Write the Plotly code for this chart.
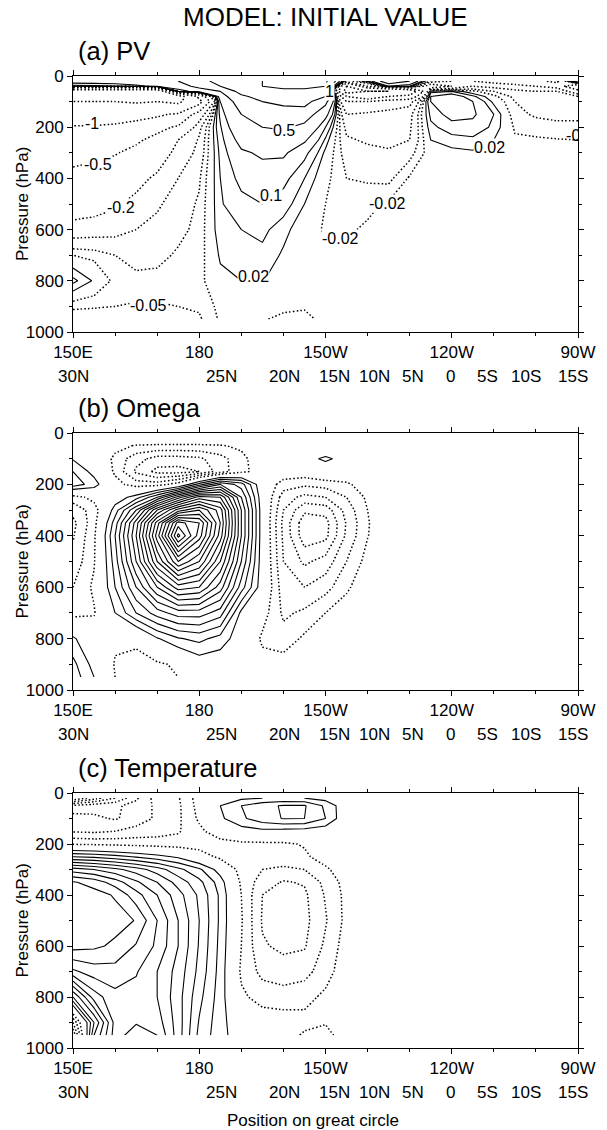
import plotly.graph_objects as go

# ---------------------------------------------------------------- grids
LON = list(range(150, 275, 5))          # 150E ... 90W (degrees east)

# (a) potential vorticity anomaly, rows = pressure levels, cols = LON
P_PV = [20, 40, 60, 80, 100, 150, 200, 250, 300, 400, 500, 600, 700, 800, 900, 950]
PV_COLS = {
    150: [0.3, 0.05, -3.0, -2.5, -2.0, -1.4, -0.95, -0.75, -0.6, -0.42, -0.3, -0.14, -0.02, 0.06, -0.04, -0.08],
    155: [0.3, 0.07, -3.0, -2.5, -2.0, -1.35, -0.95, -0.7, -0.57, -0.38, -0.27, -0.13, -0.03, 0.015, -0.045, -0.08],
    160: [0.3, 0.1, -3.0, -2.6, -2.0, -1.3, -0.9, -0.65, -0.52, -0.32, -0.22, -0.12, -0.05, -0.03, -0.05, -0.075],
    165: [0.35, 0.15, -3.0, -2.7, -2.1, -1.2, -0.8, -0.55, -0.42, -0.25, -0.16, -0.1, -0.065, -0.04, -0.052, -0.07],
    170: [0.4, 0.25, -3.0, -2.6, -2.0, -1.1, -0.6, -0.4, -0.3, -0.17, -0.11, -0.08, -0.06, -0.04, -0.052, -0.065],
    175: [0.5, 0.35, 0.1, -2.5, -2.2, -0.9, -0.45, -0.2, -0.15, -0.1, -0.07, -0.06, -0.045, -0.04, -0.05, -0.06],
    180: [0.8, 0.6, 0.3, -0.8, -1.2, -0.3, -0.12, -0.09, -0.08, -0.055, -0.045, -0.04, -0.035, -0.03, -0.045, -0.055],
    185: [1.2, 1.0, 0.5, 0.3, 0.2, 0.12, 0.09, 0.07, 0.06, 0.05, 0.045, 0.04, 0.025, 0.01, -0.01, -0.015],
    190: [1.5, 1.5, 1.2, 0.9, 0.7, 0.5, 0.35, 0.25, 0.18, 0.12, 0.08, 0.05, 0.035, 0.02, -0.01, -0.015],
    195: [2.0, 2.0, 1.6, 1.2, 1.0, 0.75, 0.5, 0.3, 0.22, 0.14, 0.1, 0.06, 0.04, 0.022, -0.01, -0.018],
    200: [2.5, 2.2, 1.8, 1.4, 1.1, 0.8, 0.55, 0.32, 0.22, 0.12, 0.07, 0.03, 0.015, 0.0, -0.015, -0.025],
    205: [2.5, 2.2, 1.8, 1.5, 1.2, 0.7, 0.4, 0.22, 0.12, 0.05, 0.02, 0.0, -0.01, -0.012, -0.018, -0.025],
    210: [2.2, 2.0, 1.5, 1.0, 0.6, 0.25, 0.1, 0.04, 0.01, -0.01, -0.02, -0.025, -0.015, -0.012, -0.014, -0.015],
    215: [-0.3, -2.0, -2.5, -1.0, -0.5, -0.2, -0.12, -0.09, -0.07, -0.05, -0.035, -0.025, -0.012, -0.01, -0.012, -0.012],
    220: [0.05, -0.5, -2.0, -1.5, -0.5, -0.15, -0.13, -0.11, -0.08, -0.055, -0.028, -0.015, -0.01, -0.005, -0.008, -0.01],
    225: [0.3, 0.1, -2.0, -1.0, -0.3, -0.15, -0.14, -0.12, -0.09, -0.06, -0.015, -0.01, -0.005, 0.0, -0.005, -0.008],
    230: [0.2, 0.05, -1.5, -0.8, -0.25, -0.12, -0.11, -0.1, -0.065, -0.015, -0.008, -0.005, 0.0, 0.0, 0.0, 0.0],
    235: [-0.05, -0.3, 0.03, 0.1, 0.1, 0.06, 0.04, 0.02, 0.0, -0.005, 0.0, 0.0, 0.0, 0.0, 0.0, 0.0],
    240: [-0.1, -0.2, 0.05, 0.15, 0.18, 0.13, 0.07, 0.035, 0.01, 0.0, 0.0, 0.0, 0.0, 0.0, 0.0, 0.0],
    245: [-0.2, -0.1, -0.01, 0.06, 0.1, 0.11, 0.08, 0.04, 0.015, 0.0, 0.0, 0.0, 0.0, 0.0, 0.0, 0.0],
    250: [-0.25, -0.12, -0.05, -0.01, 0.01, 0.05, 0.04, 0.02, 0.005, 0.0, 0.0, 0.0, 0.0, 0.0, 0.0, 0.0],
    255: [-0.3, -0.15, -0.08, -0.06, -0.05, -0.04, -0.025, -0.015, -0.005, 0.0, 0.0, 0.0, 0.0, 0.0, 0.0, 0.0],
    260: [-0.4, -0.2, -0.1, -0.07, -0.06, -0.055, -0.035, -0.015, -0.005, 0.0, 0.0, 0.0, 0.0, 0.0, 0.0, 0.0],
    265: [-0.6, -0.25, -0.1, -0.08, -0.07, -0.06, -0.04, -0.018, -0.005, 0.0, 0.0, 0.0, 0.0, 0.0, 0.0, 0.0],
    270: [0.5, -1.0, -0.3, -0.1, -0.08, -0.06, -0.04, -0.02, -0.01, 0.0, 0.0, 0.0, 0.0, 0.0, 0.0, 0.0],
}
PV_POS_LEVELS = [0.02, 0.05, 0.1, 0.2, 0.5, 1, 2, 5]
PV_NEG_LEVELS = [-0.02, -0.05, -0.1, -0.2, -0.5, -1, -2, -5]
# contour labels: (lon, pressure, level)
PV_LABELS = [
    (154.5, 187, -1), (156.0, 345, -0.5), (161.5, 515, -0.2), (168.0, 895, -0.05),
    (193.0, 784, 0.02), (197.0, 465, 0.1), (200.2, 211, 0.5), (211.0, 62, 1),
    (224.8, 497, -0.02), (213.6, 633, -0.02), (249.0, 281, 0.02),
]
PV_EDGE_LABEL = (271.5, 240, -0.02)

# (b) omega, rows = pressure levels
P_OM = [20, 50, 100, 150, 200, 250, 300, 350, 400, 500, 600, 700, 800, 900, 950]
OM_COLS = {
    150: [0, 0.5, 0.9, 2.0, 2.6, -1.5, -2.6, -3.3, -3.1, -2.7, -2.0, -1.4, 1.2, 2.3, 2.6],
    155: [0, 0, 0.3, 0.6, 1.5, -0.6, -1.6, -1.4, -1.2, -1.1, -0.8, -1.1, -0.2, 0.6, 1.0],
    160: [0, -0.6, -1.3, -1.2, -0.6, 0.3, 1.5, 2.5, 3.0, 2.5, 2.0, 1.0, -0.8, -1.1, -1.0],
    165: [0, -1.1, -2.6, -3.2, -1.5, 1.5, 5.0, 7.5, 8.0, 7.0, 5.0, 3.0, -0.8, -1.3, -1.4],
    170: [0, -1.2, -3.4, -4.3, -1.5, 4.0, 10.0, 13.5, 14.5, 12.0, 8.0, 4.5, 0.9, -1.2, -1.3],
    175: [0, -1.2, -3.4, -4.4, -0.5, 7.5, 13.5, 19.5, 21.3, 16.0, 10.5, 5.5, 1.9, -0.8, -1.0],
    180: [0, -1.2, -3.2, -4.0, 2.5, 10.5, 15.0, 18.0, 17.5, 14.0, 10.0, 5.5, 2.3, 0.3, -0.3],
    185: [0, -1.1, -2.4, -2.5, 5.0, 10.0, 12.5, 13.0, 12.5, 10.0, 7.5, 4.5, 1.6, 0.2, 0],
    190: [0, -0.8, -1.3, -1.3, 3.5, 5.0, 6.0, 6.0, 6.0, 5.0, 3.5, 0.7, 0.3, 0, 0],
    195: [0, -0.3, -0.3, -0.5, 0.0, 0.2, 0.3, 0.3, 0.3, 0.3, 0.3, -0.5, -1.2, -0.6, -0.3],
    200: [0, 0, 0, -0.2, -1.5, -2.5, -3.0, -3.3, -3.2, -3.0, -2.6, -2.2, -1.6, -0.5, -0.2],
    205: [0, 0, 0.6, -0.3, -1.8, -3.3, -4.8, -5.6, -5.6, -4.2, -3.0, -1.8, -0.8, 0, 0],
    210: [0, 0, 1.2, 0.3, -1.6, -3.0, -4.6, -5.4, -5.3, -3.6, -2.4, -1.0, -0.2, 0, 0],
    215: [0, 0, 0.6, 0, -1.2, -2.0, -2.6, -2.9, -2.8, -2.0, -1.2, -0.4, 0, 0, 0],
    220: [0, 0, 0, 0, -0.4, -0.8, -1.0, -1.1, -1.05, -0.6, -0.2, 0, 0, 0, 0],
}
OM_POS = dict(start=1, end=21, size=1)
OM_NEG = dict(start=-6, end=-1, size=1)

# (c) temperature, rows = pressure levels
P_T = [20, 50, 100, 150, 200, 250, 300, 350, 400, 500, 600, 700, 800, 900, 950]
T_COLS = {
    150: [-9.0, -4.8, -3.5, -3.1, -1.1, 3.0, 7.5, 10.1, 10.6, 10.8, 10.4, 7.8, 3.0, -3.0, -5.0],
    155: [-7.5, -4.4, -3.8, -3.2, -1.2, 2.8, 7.0, 9.6, 10.4, 10.7, 10.2, 8.5, 6.5, 3.0, 4.0],
    160: [-6.0, -4.2, -4.1, -3.0, -1.3, 2.4, 6.3, 8.5, 9.9, 10.4, 9.8, 8.6, 7.7, 7.4, 7.5],
    165: [-4.2, -3.6, -3.6, -2.6, -1.4, 1.9, 5.5, 7.2, 8.4, 9.95, 8.9, 8.1, 7.6, 7.9, 8.6],
    170: [-2.5, -2.8, -2.8, -2.4, -1.5, 1.4, 4.5, 6.0, 7.0, 8.0, 7.8, 7.0, 7.0, 7.5, 8.0],
    175: [-2.1, -2.2, -2.2, -2.1, -1.6, 0.8, 3.3, 4.6, 5.4, 6.0, 6.0, 5.6, 5.4, 5.5, 5.5],
    180: [-0.5, -0.6, -0.8, -1.3, -1.6, -0.3, 2.2, 3.3, 3.8, 4.0, 3.9, 3.7, 3.3, 2.9, 2.7],
    185: [0.3, 1.0, 0.8, -0.2, -1.5, -1.3, 0.5, 1.5, 1.8, 1.8, 1.7, 1.6, 1.5, 1.4, 1.4],
    190: [0.8, 2.0, 1.8, 0.5, -1.3, -1.6, -1.5, -1.2, -1.0, -0.9, -1.0, -1.2, -0.8, 0.1, 0.3],
    195: [1.0, 2.7, 2.6, 0.7, -1.25, -1.5, -2.0, -2.5, -3.0, -3.1, -2.9, -2.3, -1.4, -0.4, -0.3],
    200: [1.1, 3.1, 3.05, 0.6, -1.2, -1.4, -2.2, -3.1, -3.4, -3.5, -3.2, -2.6, -1.5, -0.5, -0.5],
    205: [1.0, 3.1, 3.0, 0.5, -0.9, -1.2, -2.0, -2.9, -3.2, -3.3, -3.1, -2.4, -1.3, -0.7, -1.15],
    210: [0.6, 1.8, 2.0, 0.3, -0.5, -0.5, -1.2, -1.7, -1.9, -2.1, -1.8, -1.4, -0.8, -0.95, -1.25],
    215: [0, 0.2, 0.1, 0, 0, 0, -0.3, -0.6, -0.7, -0.7, -0.5, -0.4, -0.2, -0.4, -0.6],
}
T_POS = dict(start=1, end=11, size=1)
T_NEG = dict(start=-10, end=-1, size=1)

# axis labelling
LON_TICKS = [150, 180, 210, 240, 270]
LON_TEXT = ["150E", "180", "150W", "120W", "90W"]
LAT_POS = [150.0, 185.3, 200.3, 212.2, 221.7, 230.7, 239.8, 248.6, 257.6, 268.8]
LAT_TEXT = ["30N", "25N", "20N", "15N", "10N", "5N", "0", "5S", "10S", "15S"]
P_TICKS = [0, 200, 400, 600, 800, 1000]

TITLE = "MODEL: INITIAL VALUE"
PANEL_TITLES = ["(a) PV", "(b) Omega", "(c) Temperature"]
Y_TITLE = "Pressure (hPa)"
X_TITLE = "Position on great circle"


def to_grid(cols, nrows):
    """Column dictionary -> row-major grid over LON (missing columns are zero)."""
    return [[cols.get(lon, [0.0] * nrows)[r] for lon in LON] for r in range(nrows)]


Z_PV = to_grid(PV_COLS, len(P_PV))
Z_OM = to_grid(OM_COLS, len(P_OM))
Z_T = to_grid(T_COLS, len(P_T))

FONT = "Liberation Sans, Arial, Helvetica, sans-serif"
BLACK = [[0, "black"], [1, "black"]]
SOLID = dict(width=1.1, dash="solid", smoothing=0)
DOTTED = dict(width=1.5, dash="1.5px,2.2px", smoothing=0)

fig = go.Figure()


def contour(z, y, spec, line, xa, ya):
    fig.add_trace(go.Contour(
        x=LON, y=y, z=z, autocontour=False,
        contours=dict(coloring="lines", showlabels=False, **spec),
        colorscale=BLACK, showscale=False, line=line,
        hoverinfo="skip", xaxis=xa, yaxis=ya))


# (a) PV: irregular levels, one trace per level
for lv in PV_POS_LEVELS:
    contour(Z_PV, P_PV, dict(start=lv, end=lv, size=1), SOLID, "x", "y")
for lv in PV_NEG_LEVELS:
    contour(Z_PV, P_PV, dict(start=lv, end=lv, size=1), DOTTED, "x", "y")

# (b) omega
contour(Z_OM, P_OM, OM_POS, SOLID, "x2", "y2")
contour(Z_OM, P_OM, OM_NEG, DOTTED, "x2", "y2")

# (c) temperature
contour(Z_T, P_T, T_POS, SOLID, "x3", "y3")
contour(Z_T, P_T, T_NEG, DOTTED, "x3", "y3")


def fmt(v):
    return f"{v:g}"


# label cut by the right-hand frame
fig.add_trace(go.Scatter(
    x=[PV_EDGE_LABEL[0]], y=[PV_EDGE_LABEL[1]], mode="text",
    text=[fmt(PV_EDGE_LABEL[2])], textfont=dict(family=FONT, size=16, color="black"),
    cliponaxis=True, hoverinfo="skip", showlegend=False, xaxis="x", yaxis="y"))

# ---------------------------------------------------------------- layout
W, H = 607, 1130
ML, MR, MT, MB = 73, 19, 76, 82
PH = H - MT - MB


def py(pix):
    """page pixel row -> paper y"""
    return (H - MB - pix) / PH


def px(pix):
    """page pixel column -> paper x"""
    return (pix - ML) / (W - ML - MR)


PANEL_PIX = [(76, 332), (433, 690), (793, 1048)]
DOMAINS = [[py(b), py(t)] for t, b in PANEL_PIX]

axis_common = dict(
    showline=True, linecolor="black", linewidth=1, mirror="allticks",
    ticks="outside", ticklen=5, tickwidth=1, tickcolor="black",
    showgrid=False, zeroline=False,
    tickfont=dict(family=FONT, size=17, color="black"),
)

layout = dict(
    width=W, height=H, margin=dict(l=ML, r=MR, t=MT, b=MB),
    paper_bgcolor="white", plot_bgcolor="white", showlegend=False,
    font=dict(family=FONT, color="black"),
)
annotations = []
for i, dom in enumerate(DOMAINS):
    sfx = "" if i == 0 else str(i + 1)
    layout["xaxis" + sfx] = dict(
        axis_common, domain=[0, 1], range=[150, 270], anchor="y" + sfx,
        tickmode="array", tickvals=LON_TICKS, ticktext=LON_TEXT,
        minor=dict(tickmode="linear", tick0=150, dtick=10, ticks="outside", ticklen=3, tickcolor="black"),
    )
    layout["yaxis" + sfx] = dict(
        axis_common, domain=dom, range=[1000, 0], anchor="x" + sfx,
        tickmode="array", tickvals=P_TICKS,
        minor=dict(tickmode="linear", tick0=0, dtick=100, ticks="outside", ticklen=3, tickcolor="black"),
    )
    top_pix, bot_pix = PANEL_PIX[i]
    # latitude row under the longitude labels
    for lon, txt in zip(LAT_POS, LAT_TEXT):
        annotations.append(dict(
            x=lon, y=py(bot_pix + 44), xref="x" + sfx, yref="paper",
            text=txt, showarrow=False, xanchor="center", yanchor="middle",
            font=dict(family=FONT, size=17, color="black")))
    # y-axis title
    annotations.append(dict(
        x=px(21), y=(dom[0] + dom[1]) / 2, xref="paper", yref="paper",
        text=Y_TITLE, textangle=-90, showarrow=False,
        xanchor="center", yanchor="middle",
        font=dict(family=FONT, size=17, color="black")))
    # panel title
    annotations.append(dict(
        x=px(76), y=py(top_pix - 25), xref="paper", yref="paper",
        text=PANEL_TITLES[i], showarrow=False, xanchor="left", yanchor="middle",
        font=dict(family=FONT, size=25.5, color="black")))

# contour value labels on panel (a)
for lon, p, lv in PV_LABELS:
    annotations.append(dict(
        x=lon, y=p, xref="x", yref="y", text=fmt(lv), showarrow=False,
        xanchor="center", yanchor="middle", bgcolor="white", borderpad=0,
        font=dict(family=FONT, size=16, color="black")))

annotations.append(dict(
    x=0.5, y=py(17), xref="paper", yref="paper", text=TITLE, showarrow=False,
    xanchor="center", yanchor="middle", font=dict(family=FONT, size=26, color="black")))
annotations.append(dict(
    x=px(318), y=py(1120), xref="paper", yref="paper", text=X_TITLE, showarrow=False,
    xanchor="center", yanchor="middle", font=dict(family=FONT, size=17, color="black")))

layout["annotations"] = annotations
fig.update_layout(**layout)

fig.write_html("out.html")
